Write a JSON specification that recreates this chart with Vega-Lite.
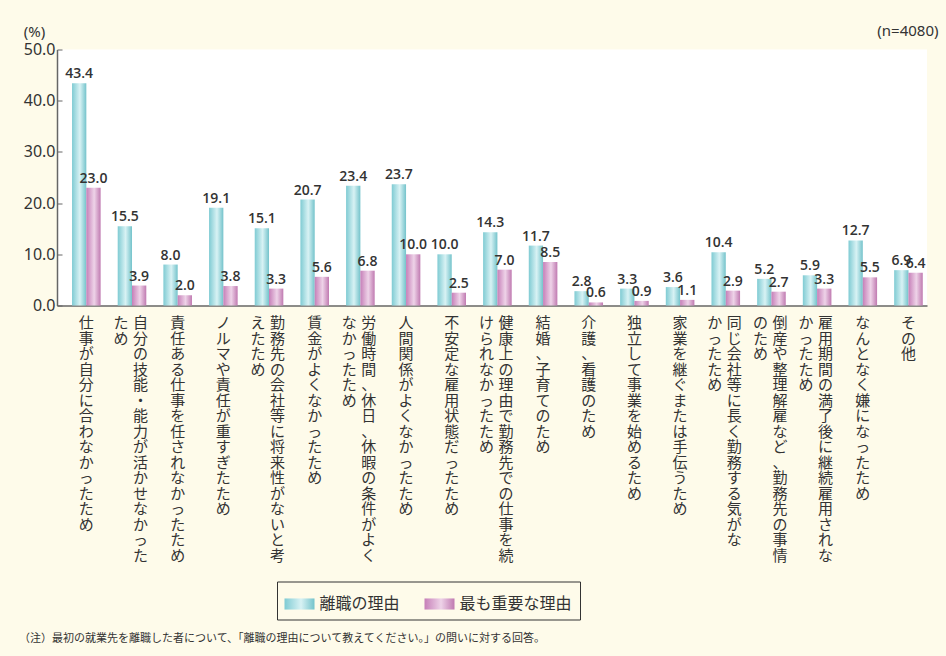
{
  "$schema": "https://vega.github.io/schema/vega-lite/v6.json",
  "width": 870,
  "height": 256,
  "autosize": "none",
  "padding": {"left": 57, "top": 49.5, "right": 19, "bottom": 350.5},
  "background": "#fefbea",
  "config": {
    "view": {"fill": "white", "stroke": null},
    "font": "Noto Sans CJK JP"
  },
  "title": {
    "text": "（注）最初の就業先を離職した者について、「離職の理由について教えてください。」の問いに対する回答。",
    "orient": "bottom",
    "anchor": "start",
    "frame": "group",
    "fontSize": 11,
    "fontWeight": "normal",
    "color": "#333333",
    "font": "Noto Sans CJK JP",
    "offset": 13,
    "dx": -38
  },
  "data": {
    "values": [
      {"reason": "仕事が自分に合わなかったため", "c1": "仕事が自分に合わなかったため", "c2": null, "離職の理由": 43.4, "最も重要な理由": 23.0},
      {"reason": "自分の技能・能力が活かせなかったため", "c1": "自分の技能・能力が活かせなかった", "c2": "ため", "離職の理由": 15.5, "最も重要な理由": 3.9},
      {"reason": "責任ある仕事を任されなかったため", "c1": "責任ある仕事を任されなかったため", "c2": null, "離職の理由": 8.0, "最も重要な理由": 2.0},
      {"reason": "ノルマや責任が重すぎたため", "c1": "ノルマや責任が重すぎたため", "c2": null, "離職の理由": 19.1, "最も重要な理由": 3.8},
      {"reason": "勤務先の会社等に将来性がないと考えたため", "c1": "勤務先の会社等に将来性がないと考", "c2": "えたため", "離職の理由": 15.1, "最も重要な理由": 3.3},
      {"reason": "賃金がよくなかったため", "c1": "賃金がよくなかったため", "c2": null, "離職の理由": 20.7, "最も重要な理由": 5.6},
      {"reason": "労働時間、休日、休暇の条件がよくなかったため", "c1": "労働時間、休日、休暇の条件がよく", "c2": "なかったため", "離職の理由": 23.4, "最も重要な理由": 6.8},
      {"reason": "人間関係がよくなかったため", "c1": "人間関係がよくなかったため", "c2": null, "離職の理由": 23.7, "最も重要な理由": 10.0},
      {"reason": "不安定な雇用状態だったため", "c1": "不安定な雇用状態だったため", "c2": null, "離職の理由": 10.0, "最も重要な理由": 2.5},
      {"reason": "健康上の理由で勤務先での仕事を続けられなかったため", "c1": "健康上の理由で勤務先での仕事を続", "c2": "けられなかったため", "離職の理由": 14.3, "最も重要な理由": 7.0},
      {"reason": "結婚、子育てのため", "c1": "結婚、子育てのため", "c2": null, "離職の理由": 11.7, "最も重要な理由": 8.5},
      {"reason": "介護、看護のため", "c1": "介護、看護のため", "c2": null, "離職の理由": 2.8, "最も重要な理由": 0.6},
      {"reason": "独立して事業を始めるため", "c1": "独立して事業を始めるため", "c2": null, "離職の理由": 3.3, "最も重要な理由": 0.9},
      {"reason": "家業を継ぐまたは手伝うため", "c1": "家業を継ぐまたは手伝うため", "c2": null, "離職の理由": 3.6, "最も重要な理由": 1.1},
      {"reason": "同じ会社等に長く勤務する気がなかったため", "c1": "同じ会社等に長く勤務する気がな", "c2": "かったため", "離職の理由": 10.4, "最も重要な理由": 2.9},
      {"reason": "倒産や整理解雇など、勤務先の事情のため", "c1": "倒産や整理解雇など、勤務先の事情", "c2": "のため", "離職の理由": 5.2, "最も重要な理由": 2.7},
      {"reason": "雇用期間の満了後に継続雇用されなかったため", "c1": "雇用期間の満了後に継続雇用されな", "c2": "かったため", "離職の理由": 5.9, "最も重要な理由": 3.3},
      {"reason": "なんとなく嫌になったため", "c1": "なんとなく嫌になったため", "c2": null, "離職の理由": 12.7, "最も重要な理由": 5.5},
      {"reason": "その他", "c1": "その他", "c2": null, "離職の理由": 6.9, "最も重要な理由": 6.4}
    ]
  },
  "encoding": {
    "x": {
      "field": "reason",
      "type": "nominal",
      "sort": null,
      "scale": {"paddingInner": 0.374, "paddingOuter": 0.211, "align": 0.78},
      "axis": {
        "labels": false,
        "ticks": false,
        "domain": true,
        "domainColor": "#666666",
        "domainWidth": 1.5,
        "title": "(n=4080)",
        "titleFont": "Noto Sans",
        "titleFontSize": 15,
        "titleFontWeight": "normal",
        "titleColor": "#333333",
        "titleAlign": "right",
        "titleBaseline": "alphabetic",
        "titleAnchor": null,
        "titleX": 881,
        "titleY": -270.5
      }
    }
  },
  "layer": [
    {
      "transform": [{"fold": ["離職の理由", "最も重要な理由"], "as": ["series", "value"]}],
      "mark": {"type": "bar", "strokeWidth": 0},
      "encoding": {
        "xOffset": {"field": "series", "type": "nominal", "sort": ["離職の理由", "最も重要な理由"], "scale": {"paddingInner": 0, "paddingOuter": 0}},
        "y": {
          "field": "value",
          "type": "quantitative",
          "scale": {"domain": [0, 50], "nice": false},
          "axis": {
            "values": [0, 10, 20, 30, 40, 50],
            "format": ".1f",
            "grid": false,
            "labelFont": "Noto Sans",
            "labelFontSize": 16,
            "labelColor": "#333333",
            "labelPadding": 7,
            "tickSize": -5,
            "tickColor": "#666666",
            "domainColor": "#666666",
            "domainWidth": 1.5,
            "title": "(%)",
            "titleFont": "Noto Sans",
            "titleFontSize": 15,
            "titleFontWeight": "normal",
            "titleColor": "#333333",
            "titleAngle": 0,
            "titleAlign": "center",
            "titleBaseline": "alphabetic",
            "titleAnchor": null,
            "titleX": -23,
            "titleY": -13.5
          }
        },
        "fill": {
          "field": "series",
          "type": "nominal",
          "scale": {
            "domain": ["離職の理由", "最も重要な理由"],
            "range": [
              {"expr": "{gradient: 'linear', x1: 0, y1: 0, x2: 1, y2: 0, stops: [{offset: 0, color: '#7fcbd3'}, {offset: 0.55, color: '#d8f2f4'}, {offset: 1, color: '#74c3cb'}]}"},
              {"expr": "{gradient: 'linear', x1: 0, y1: 0, x2: 1, y2: 0, stops: [{offset: 0, color: '#c67fb8'}, {offset: 0.55, color: '#eed3e8'}, {offset: 1, color: '#c07ab1'}]}"}
            ]
          },
          "legend": {
            "title": null,
            "orient": "none",
            "legendX": 220,
            "legendY": 532,
            "direction": "horizontal",
            "strokeColor": "#333333",
            "padding": 7.5,
            "columnPadding": 24,
            "labelFont": "Noto Sans CJK JP",
            "labelFontSize": 16,
            "labelColor": "#333333",
            "labelOffset": 5,
            "labelLimit": 300,
            "symbolType": "M-1,-0.37H1V0.37H-1Z",
            "symbolSize": 900,
            "symbolStrokeWidth": 0,
            "symbolOpacity": 1
          }
        }
      }
    },
    {
      "transform": [{"fold": ["離職の理由", "最も重要な理由"], "as": ["series", "value"]}],
      "mark": {"type": "text", "baseline": "alphabetic", "dy": -5, "font": "Open Sans", "fontSize": 14, "fontWeight": 600, "color": "#333333"},
      "encoding": {
        "xOffset": {"field": "series", "type": "nominal", "sort": ["離職の理由", "最も重要な理由"]},
        "y": {"field": "value", "type": "quantitative", "title": "(%)"},
        "text": {"field": "value", "type": "quantitative", "format": ".1f"}
      }
    },
    {
      "transform": [{"filter": "!datum.c2"}, {"calculate": "split(datum.c1, '')", "as": "t1"}],
      "mark": {"type": "text", "baseline": "top", "align": "center", "dy": 10.5, "fontSize": 15, "lineHeight": 15.5, "color": "#333333", "font": "Noto Sans CJK JP"},
      "encoding": {
        "y": {"datum": 0, "type": "quantitative"},
        "text": {"field": "t1", "type": "nominal"}
      }
    },
    {
      "transform": [{"filter": "datum.c2"}, {"calculate": "split(datum.c1, '')", "as": "t1"}],
      "mark": {"type": "text", "baseline": "top", "align": "center", "dx": 8.5, "dy": 10.5, "fontSize": 15, "lineHeight": 15.5, "color": "#333333", "font": "Noto Sans CJK JP"},
      "encoding": {
        "y": {"datum": 0, "type": "quantitative"},
        "text": {"field": "t1", "type": "nominal"}
      }
    },
    {
      "transform": [{"filter": "datum.c2"}, {"calculate": "split(datum.c2, '')", "as": "t2"}],
      "mark": {"type": "text", "baseline": "top", "align": "center", "dx": -11, "dy": 10.5, "fontSize": 15, "lineHeight": 15.5, "color": "#333333", "font": "Noto Sans CJK JP"},
      "encoding": {
        "y": {"datum": 0, "type": "quantitative"},
        "text": {"field": "t2", "type": "nominal"}
      }
    }
  ]
}
